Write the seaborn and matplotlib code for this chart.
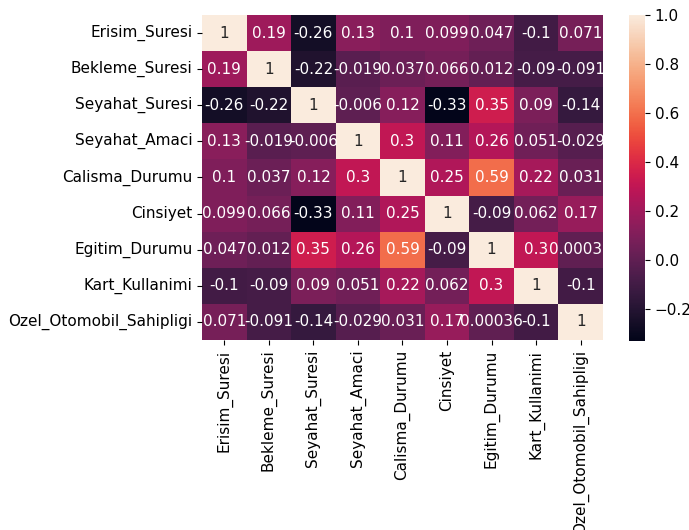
import numpy as np
import pandas as pd
import matplotlib
matplotlib.use("Agg")
import matplotlib.pyplot as plt
import seaborn as sns

labels = ["Erisim_Suresi", "Bekleme_Suresi", "Seyahat_Suresi", "Seyahat_Amaci",
          "Calisma_Durumu", "Cinsiyet", "Egitim_Durumu", "Kart_Kullanimi",
          "Ozel_Otomobil_Sahipligi"]

erisim   = [1, 0.19, -0.26, 0.13, 0.1, 0.099, 0.047, -0.1, 0.071]
bekleme  = [0.19, 1, -0.22, -0.019, 0.037, 0.066, 0.012, -0.09, -0.091]
seyahat  = [-0.26, -0.22, 1, -0.006, 0.12, -0.33, 0.35, 0.09, -0.14]
amac     = [0.13, -0.019, -0.006, 1, 0.3, 0.11, 0.26, 0.051, -0.029]
calisma  = [0.1, 0.037, 0.12, 0.3, 1, 0.25, 0.59, 0.22, 0.031]
cinsiyet = [0.099, 0.066, -0.33, 0.11, 0.25, 1, -0.09, 0.062, 0.17]
egitim   = [0.047, 0.012, 0.35, 0.26, 0.59, -0.09, 1, 0.3, 0.00036]
kart     = [-0.1, -0.09, 0.09, 0.051, 0.22, 0.062, 0.3, 1, -0.1]
ozel     = [0.071, -0.091, -0.14, -0.029, 0.031, 0.17, 0.00036, -0.1, 1]

corr = pd.DataFrame([erisim, bekleme, seyahat, amac, calisma, cinsiyet, egitim, kart, ozel],
                    index=labels, columns=labels)

W, H = 689, 530
fig = plt.figure(figsize=(W / 100, H / 100), dpi=100)
ax = fig.add_axes([202 / W, 1 - 340 / H, 401 / W, 325 / H])
cax = fig.add_axes([629 / W, 1 - 341 / H, 16 / W, 326 / H])

sns.heatmap(corr, annot=True, ax=ax, cbar_ax=cax, annot_kws={"fontsize": 11})
for t in ax.texts:
    t.set_clip_on(True)

ax.set_xticks(np.arange(len(labels)) + 0.5)
ax.set_xticklabels(labels, rotation=90, fontsize=11)
ax.set_yticks(np.arange(len(labels)) + 0.5)
ax.set_yticklabels(labels, rotation=0, fontsize=11)
cax.tick_params(labelsize=11)

fig.savefig("out.png", dpi=100)
